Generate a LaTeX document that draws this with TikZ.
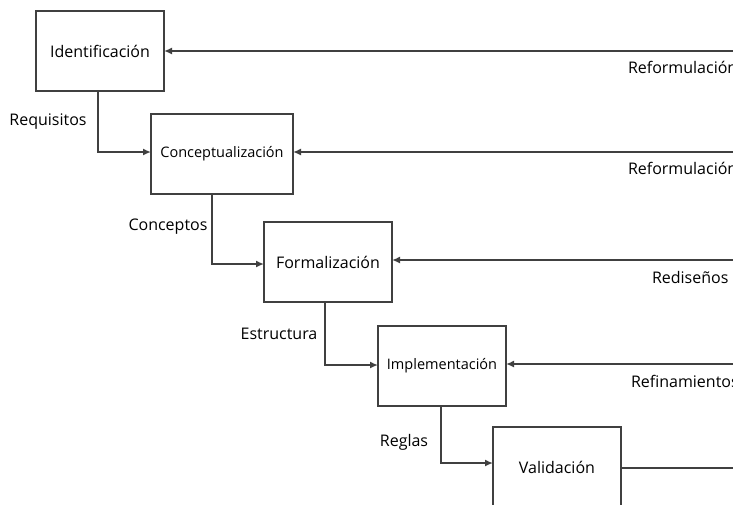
\documentclass[tikz,border=0pt]{standalone}
\usepackage{fontspec}
\setmainfont{Open Sans}
\usetikzlibrary{arrows.meta}

\begin{document}
\begin{tikzpicture}[x=1pt, y=-1pt,
  every node/.style={font=\fontsize{16}{18}\selectfont, text=black, inner sep=0pt, outer sep=0pt},
  chica/.style={font=\fontsize{14.5}{16}\selectfont},
  etapa/.style={draw=black!75, line width=1.6pt, fill=white, minimum width=128pt, minimum height=80pt},
  flujo/.style={draw=black!75, line width=1.6pt, -{Latex[length=8pt, width=7pt]}},
  retro/.style={draw=black!75, line width=1.6pt, -{Latex[length=8pt, width=7pt]}}]
\useasboundingbox[fill=white] (0,0) rectangle (733,504);

% etapas
\node[etapa] (ident) at (100,51) {Identificación};
\node[etapa, chica, minimum width=142pt] (concep) at (222,154) {Conceptualización};
\node[etapa] (form) at (328,262) {Formalización};
\node[etapa, chica] (impl) at (442,366) {Implementación};
\node[etapa] (valid) at (557,467) {Validación};

% etiquetas
\node (req) at (48,122) {Requisitos};
\node (conc) at (168,227) {Conceptos};
\node (estr) at (279,334) {Estructura};
\node (regl) at (404,442) {Reglas};

\node[anchor=west] (reform1) at (628,67) {Reformulación};
\node[anchor=west] (reform2) at (628,168) {Reformulación};
\node[anchor=west] (redis) at (652,277) {Rediseños};
\node[anchor=west] (refin) at (631,381) {Refinamientos};

% bordes
\coordinate (b1) at (745,51);
\coordinate (b2) at (745,152);
\coordinate (b3) at (745,260);
\coordinate (b4) at (745,364);
\coordinate (b5) at (745,468);

% flujo hacia abajo
\draw[flujo] ([xshift=-2pt]ident.south) |- ([yshift=2pt]concep.west);
\draw[flujo] ([xshift=-10pt]concep.south) |- ([yshift=-2pt]form.west);
\draw[flujo] ([xshift=-3pt]form.south) |- ([yshift=1pt]impl.west);
\draw[flujo] ([xshift=-1pt]impl.south) |- ([yshift=4pt]valid.west);

% retroalimentacion
\draw[retro] (b1) -- (b1 -| ident.east);
\draw[retro] (b2) -- (b2 -| concep.east);
\draw[retro] (b3) -- (b3 -| form.east);
\draw[retro] (b4) -- (b4 -| impl.east);
\draw[draw=black!75, line width=1.6pt] (b5 -| valid.east) -- (b5);
\end{tikzpicture}
\end{document}
